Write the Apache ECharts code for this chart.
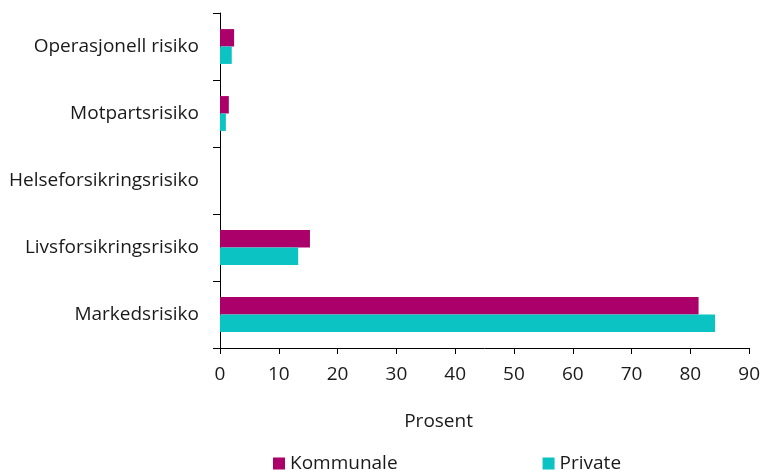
<!DOCTYPE html>
<html>
<head>
<meta charset="utf-8">
<script src="https://cdn.jsdelivr.net/npm/echarts@6/dist/echarts.min.js"></script>
<style>
  html, body { margin: 0; padding: 0; background: #fff; }
  #chart { width: 763px; height: 471px; }
</style>
</head>
<body>
<div id="chart"></div>
<script>
// Risk categories, bottom to top on the vertical axis
var categories = ['Markedsrisiko', 'Livsforsikringsrisiko', 'Helseforsikringsrisiko', 'Motpartsrisiko', 'Operasjonell risiko'];
// Share of total risk (per cent)
var kommunale = [81.4, 15.3, 0, 1.5, 2.4];
var privat = [84.2, 13.3, 0, 1.0, 2.0];
var xTicks = { min: 0, max: 90, interval: 10 };

var FONT = '"Open Sans", "Liberation Sans", sans-serif';
var TEXT = '#1a1a1a';
var chart = echarts.init(document.getElementById('chart'), null, { renderer: 'canvas' });
chart.setOption({
  animation: false,
  textStyle: { fontFamily: FONT, color: TEXT },
  grid: { left: 220, right: 11, top: 13, bottom: 123 },
  legend: {
    data: ['Kommunale', 'Private'],
    left: 268,
    top: 449,
    itemWidth: 12,
    itemHeight: 12,
    itemGap: 145,
    icon: 'rect',
    textStyle: { fontFamily: FONT, fontSize: 19, color: TEXT }
  },
  xAxis: {
    type: 'value',
    min: xTicks.min,
    max: xTicks.max,
    interval: xTicks.interval,
    name: 'Prosent',
    nameLocation: 'middle',
    nameGap: 64,
    nameTextStyle: { fontFamily: FONT, fontSize: 19, color: TEXT, padding: [0, 92, 0, 0] },
    axisLine: { show: true, lineStyle: { color: '#000', width: 1 } },
    axisTick: { show: true, length: 6, lineStyle: { color: '#000' } },
    axisLabel: { fontFamily: FONT, fontSize: 19, color: TEXT, margin: 17 },
    splitLine: { show: false }
  },
  yAxis: {
    type: 'category',
    data: categories,
    axisLine: { show: true, lineStyle: { color: '#000', width: 1 } },
    axisTick: { show: true, length: 7, lineStyle: { color: '#000' } },
    axisLabel: { fontFamily: FONT, fontSize: 19, color: TEXT, margin: 21 },
    splitLine: { show: false }
  },
  series: [
    {
      name: 'Kommunale',
      type: 'bar',
      data: kommunale,
      itemStyle: { color: '#ab0069' },
      barGap: '0%',
      barCategoryGap: '48%'
    },
    {
      name: 'Private',
      type: 'bar',
      data: privat,
      itemStyle: { color: '#0bc3c3' },
      barGap: '0%',
      barCategoryGap: '48%'
    }
  ]
});
</script>
</body>
</html>
